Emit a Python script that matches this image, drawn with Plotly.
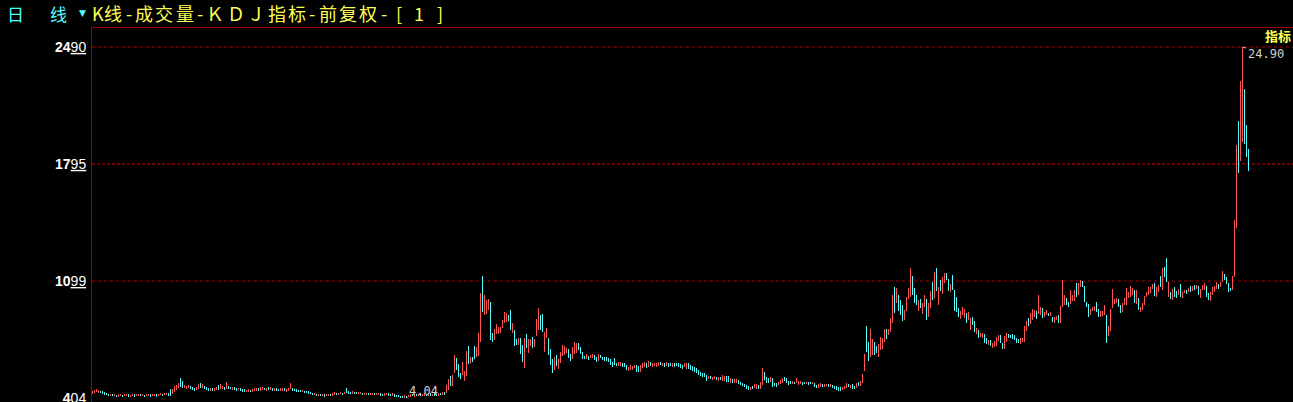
import plotly.graph_objects as go

# ---- data: daily candles (front-adjusted) ----
opens = [
    4.30,4.35,4.40,4.36,4.48,4.44,4.40,4.34,4.30,4.18,
    4.26,4.16,4.24,4.15,4.17,4.24,4.16,4.18,4.26,4.14,
    4.16,4.26,4.17,4.18,4.26,4.16,4.24,4.14,4.16,4.25,
    4.15,4.17,4.26,4.18,4.20,4.28,4.20,4.22,4.32,4.55,
    4.30,4.40,4.50,4.65,5.25,5.08,4.62,4.60,4.62,4.75,
    4.70,4.66,4.52,4.60,4.95,4.62,4.78,4.70,4.65,4.48,
    4.62,4.48,4.50,4.80,4.55,4.58,4.72,4.60,4.78,4.72,
    4.52,4.68,4.66,4.50,4.62,4.58,4.55,4.38,4.40,4.54,
    4.42,4.45,4.48,4.62,4.48,4.52,4.66,4.48,4.68,4.52,
    4.66,4.46,4.64,4.60,4.46,4.48,4.62,4.42,4.44,4.55,
    4.62,4.58,4.56,4.54,4.52,4.38,4.48,4.46,4.44,4.40,
    4.36,4.22,4.30,4.20,4.28,4.18,4.26,4.16,4.18,4.28,
    4.18,4.22,4.34,4.22,4.26,4.36,4.25,4.64,4.46,4.42,
    4.30,4.40,4.38,4.28,4.30,4.36,4.22,4.24,4.32,4.20,
    4.22,4.32,4.22,4.24,4.34,4.30,4.18,4.20,4.34,4.30,
    4.16,4.26,4.24,4.22,4.18,4.16,4.06,4.15,4.08,4.12,
    4.30,4.12,4.28,4.16,4.32,4.16,4.18,4.30,4.18,4.32,
    4.16,4.32,4.30,4.18,4.36,4.22,4.41,4.32,4.52,5.35,
    4.75,5.54,6.40,6.06,5.51,5.41,5.07,5.35,7.13,6.14,
    6.49,7.13,6.49,6.53,7.38,11.29,8.97,9.03,9.27,9.76,
    7.92,7.49,7.84,7.84,7.88,8.18,8.48,8.57,8.97,9.27,
    7.92,8.08,7.53,7.19,7.58,7.19,5.84,7.84,6.73,7.13,
    7.65,7.05,7.72,8.08,8.97,9.03,6.79,7.59,7.59,6.95,
    6.36,5.70,6.59,5.74,6.10,6.55,6.59,6.69,6.93,6.65,
    6.34,6.65,6.73,7.32,7.05,6.79,6.55,6.34,6.55,6.42,
    6.42,6.61,6.49,6.24,6.59,6.49,6.49,6.45,6.40,6.34,
    6.20,6.40,6.14,5.94,5.94,6.14,6.10,6.00,5.66,5.70,
    5.70,5.80,6.00,5.94,5.60,5.80,5.86,6.10,5.90,6.20,
    5.90,5.92,5.88,5.94,6.20,5.94,6.14,5.94,6.10,6.10,
    5.90,6.10,6.14,6.10,6.06,6.00,5.86,5.74,6.10,6.00,
    5.94,5.86,5.80,5.70,5.60,5.54,5.51,5.41,5.15,5.35,
    5.11,5.15,5.31,5.07,5.31,5.07,5.07,5.35,5.35,4.95,
    5.15,4.91,4.95,5.11,5.01,4.95,4.87,4.81,4.75,4.52,
    4.75,4.61,4.56,4.81,4.56,4.81,5.60,5.31,5.21,5.01,
    5.21,4.95,4.95,4.81,4.87,4.95,5.27,5.21,5.07,5.07,
    4.87,5.01,4.91,4.81,4.87,5.01,5.01,4.87,5.01,5.01,
    4.87,4.95,4.81,4.61,4.71,4.87,4.67,4.75,4.87,4.71,
    4.81,4.75,4.75,4.67,4.67,4.52,4.56,4.61,4.87,4.61,
    4.85,4.77,4.65,5.01,4.77,4.91,5.64,8.33,7.35,6.49,
    6.59,7.34,7.14,6.49,6.89,6.95,7.34,8.17,7.78,7.94,
    8.47,10.61,9.66,10.19,9.86,9.56,8.67,9.20,9.92,10.06,
    11.30,10.59,10.19,9.20,9.92,9.01,9.46,9.92,8.87,9.40,
    10.91,9.96,11.78,9.56,11.05,10.25,10.85,11.44,11.10,10.35,
    11.34,10.45,10.06,9.36,8.73,8.97,8.77,9.07,8.67,8.08,
    8.87,8.61,7.82,8.08,7.68,7.62,7.82,7.58,7.18,7.48,
    7.03,7.09,7.14,7.42,7.78,7.28,6.95,7.38,7.82,7.80,
    7.82,7.78,7.58,7.56,7.22,7.34,7.34,8.02,8.81,8.41,
    8.67,8.87,9.20,9.01,8.97,9.40,8.87,8.97,9.12,8.91,
    8.87,8.51,8.67,8.97,8.51,9.46,9.56,9.96,9.76,9.62,
    9.82,9.82,10.89,10.16,10.65,11.01,10.69,9.76,9.62,8.97,
    9.23,9.23,9.76,9.31,8.87,8.91,8.97,8.97,7.72,8.04,
    9.36,9.62,9.66,9.90,9.56,9.17,9.56,9.56,9.96,10.06,
    10.16,10.45,9.62,9.96,9.17,9.27,9.56,10.06,10.16,10.26,
    10.49,10.89,10.02,10.36,11.29,10.45,11.84,12.34,10.06,10.36,
    9.86,10.65,10.41,10.16,10.81,9.96,10.26,10.45,10.36,10.69,
    10.41,10.75,10.49,10.69,9.96,10.45,10.45,10.69,10.30,9.82,
    10.16,10.36,10.49,10.81,10.65,10.95,11.40,11.21,10.89,10.55,
    10.46,11.25,14.12,20.50,18.14,19.25,22.38,20.26,18.84,
]
closes = [
    4.45,4.50,4.58,4.52,4.32,4.28,4.24,4.20,4.16,4.28,
    4.14,4.26,4.14,4.25,4.27,4.14,4.28,4.30,4.15,4.24,
    4.27,4.15,4.29,4.30,4.14,4.28,4.12,4.26,4.28,4.14,
    4.27,4.29,4.15,4.30,4.32,4.16,4.34,4.36,4.18,4.15,
    4.60,4.75,4.82,4.95,4.72,4.62,4.80,4.78,4.80,4.55,
    4.50,4.48,4.72,4.90,4.66,4.88,4.55,4.50,4.46,4.62,
    4.45,4.66,4.70,4.52,4.85,4.78,4.52,5.01,4.58,4.55,
    4.70,4.50,4.48,4.64,4.46,4.42,4.40,4.52,4.56,4.40,
    4.58,4.62,4.66,4.46,4.68,4.70,4.50,4.64,4.50,4.72,
    4.48,4.62,4.48,4.44,4.62,4.64,4.45,4.58,4.62,4.95,
    4.48,4.44,4.42,4.40,4.38,4.50,4.36,4.32,4.30,4.26,
    4.22,4.32,4.18,4.30,4.16,4.30,4.15,4.28,4.30,4.16,
    4.32,4.38,4.20,4.36,4.40,4.22,4.38,4.36,4.30,4.28,
    4.44,4.28,4.26,4.40,4.42,4.24,4.34,4.36,4.22,4.32,
    4.34,4.20,4.34,4.36,4.18,4.16,4.34,4.36,4.18,4.14,
    4.32,4.12,4.10,4.08,4.06,4.05,4.20,4.04,4.24,4.28,
    4.14,4.26,4.14,4.30,4.18,4.30,4.32,4.16,4.34,4.18,
    4.30,4.18,4.16,4.34,4.20,4.40,4.22,4.81,5.17,4.75,
    5.41,6.59,5.70,5.31,5.17,6.20,5.64,6.85,6.06,6.49,
    6.20,6.34,7.05,7.92,10.29,9.17,10.16,9.86,9.92,7.49,
    7.38,8.12,8.44,8.28,8.28,8.67,9.17,9.07,8.63,8.08,
    8.48,7.13,7.19,7.62,6.65,6.20,7.58,6.99,7.53,7.54,
    6.99,7.54,8.71,9.40,8.08,7.98,7.98,8.18,6.59,6.00,
    5.51,6.46,5.94,6.36,6.75,7.19,7.13,6.99,6.40,6.26,
    7.05,7.35,7.29,6.89,6.63,6.34,6.34,6.65,6.30,6.61,
    6.65,6.30,6.20,6.65,6.40,6.30,6.26,6.26,6.20,6.00,
    5.86,6.00,5.94,6.20,6.20,5.90,5.90,5.70,5.90,6.00,
    5.94,6.00,5.60,5.60,6.00,6.10,6.20,5.80,6.26,5.94,
    6.14,6.12,6.14,6.20,6.00,6.14,5.90,6.20,5.90,5.94,
    6.10,5.90,5.94,5.86,5.80,5.74,6.14,6.14,5.74,5.70,
    5.66,5.60,5.51,5.41,5.35,5.31,5.31,5.07,5.35,5.15,
    5.31,5.35,5.11,5.31,5.11,5.41,5.35,5.01,5.01,5.21,
    4.91,5.15,5.15,4.87,4.81,4.75,4.67,4.56,4.52,4.71,
    4.56,4.87,4.87,4.56,5.01,5.80,5.11,4.95,4.91,5.27,
    4.67,4.75,4.71,5.01,5.11,5.21,5.07,4.95,4.81,4.87,
    5.07,4.87,5.21,5.07,5.07,4.81,4.87,5.01,4.81,4.87,
    5.01,4.67,4.61,4.87,4.95,4.67,4.87,4.87,4.71,4.87,
    4.61,4.56,4.52,4.48,4.48,4.71,4.75,4.95,4.67,4.81,
    4.57,4.57,4.91,4.77,5.07,5.47,6.65,6.79,6.24,8.14,
    7.54,6.59,6.69,7.22,7.68,7.58,8.13,7.54,8.13,8.81,
    10.15,9.07,10.59,9.20,8.97,8.61,9.26,10.06,10.59,11.78,
    10.19,9.66,9.56,9.86,9.36,9.66,10.15,8.67,9.66,10.39,
    9.86,11.54,10.39,10.65,10.39,11.24,11.44,11.05,10.39,10.79,
    10.45,9.20,9.16,8.87,9.20,9.46,9.32,8.47,9.16,8.81,
    8.37,7.94,8.21,7.62,7.88,7.88,7.28,7.22,7.48,7.14,
    7.28,7.42,7.68,7.78,7.28,6.95,7.74,7.88,7.58,7.60,
    7.54,7.48,7.28,7.30,7.58,7.58,8.33,8.61,8.33,9.07,
    9.32,9.26,8.73,10.15,9.46,8.81,9.16,9.26,8.93,9.17,
    8.57,8.87,8.91,8.51,9.50,11.05,10.16,9.56,9.46,10.45,
    10.16,10.45,10.06,10.85,11.05,10.65,9.76,9.42,8.87,9.31,
    9.46,9.50,9.17,8.87,9.23,9.23,9.56,7.33,8.32,9.31,
    10.49,9.90,9.96,9.46,9.07,9.66,9.96,10.55,10.36,10.69,
    10.55,9.66,10.45,9.27,9.46,9.66,10.10,10.36,10.65,10.61,
    10.81,10.10,10.61,10.75,10.61,11.74,11.25,10.95,10.95,9.90,
    10.49,10.06,9.96,10.49,10.06,10.36,10.45,10.22,10.55,10.36,
    10.69,10.45,10.75,10.16,10.49,10.75,10.85,10.06,9.86,10.36,
    10.61,10.69,10.95,10.49,10.95,11.60,11.05,10.81,10.36,10.41,
    11.29,14.62,19.07,17.39,22.87,24.90,19.13,18.38,17.55,
]

tick_vals = [4.04, 10.99, 17.95, 24.90]
tick_text = ["<b>4</b><u>04</u>", "<b>10</b><u>99</u>",
             "<b>17</b><u>95</u>", "<b>24</b><u>90</u>"]
grid_levels = [24.90, 10.99]
current_level = 17.95
high_label = "24.90"
low_label = "4.04"
header_left = ["日", "线"]
header_title = "K线-成交量-ＫＤＪ指标-前复权-"
header_suffix = "[1]"
corner_label = "指标"

# ---- styles ----
UP = "#ff5454"
DOWN = "#54ffff"
FRAME = "#a00000"
YELLOW = "#ffff54"
CYAN = "#54ffff"
W, H = 1293, 402
ML, MT = 92, 28
PW, PH = W - ML, H - MT


def px_x(px):
    return (px - ML) / PW


def px_y(py):
    return 1 - (py - MT) / PH


n = len(opens)
up_x, up_b, up_h, dn_x, dn_b, dn_h = [], [], [], [], [], []
for i, (o, c) in enumerate(zip(opens, closes)):
    lo, hi = min(o, c), max(o, c)
    if c >= o:
        up_x.append(i); up_b.append(lo); up_h.append(hi - lo)
    else:
        dn_x.append(i); dn_b.append(lo); dn_h.append(hi - lo)

i_max = max(range(n), key=lambda k: max(opens[k], closes[k]))
i_min = min(range(n), key=lambda k: min(opens[k], closes[k]))

fig = go.Figure()
fig.add_trace(go.Bar(x=up_x, y=up_h, base=up_b, width=0.5,
                     marker=dict(color=UP, line=dict(width=0)), hoverinfo="skip"))
fig.add_trace(go.Bar(x=dn_x, y=dn_h, base=dn_b, width=0.5,
                     marker=dict(color=DOWN, line=dict(width=0)), hoverinfo="skip"))

shapes = []
for lv in grid_levels:
    shapes.append(dict(type="line", xref="paper", x0=0, x1=1, yref="y", y0=lv, y1=lv,
                       line=dict(color=FRAME, width=1, dash="3px,3px"), layer="below"))
shapes.append(dict(type="line", xref="paper", x0=0, x1=1, yref="y",
                   y0=current_level, y1=current_level,
                   line=dict(color="#e00000", width=1, dash="3px,2px"), layer="below"))

annotations = [
    dict(text=header_left[0], xref="paper", yref="paper", x=px_x(5), y=px_y(13),
         xanchor="left", yanchor="middle", showarrow=False,
         font=dict(family="Noto Sans CJK SC", size=17, color=CYAN)),
    dict(text=header_left[1], xref="paper", yref="paper", x=px_x(48), y=px_y(13),
         xanchor="left", yanchor="middle", showarrow=False,
         font=dict(family="Noto Sans CJK SC", size=17, color=CYAN)),
    dict(text="▼", xref="paper", yref="paper", x=px_x(77), y=px_y(13),
         xanchor="left", yanchor="middle", showarrow=False,
         font=dict(family="DejaVu Sans", size=9, color=CYAN)),
    dict(text="<b>" + corner_label + "</b>", xref="paper", yref="paper", x=1, y=px_y(36),
         xanchor="right", yanchor="middle", showarrow=False,
         font=dict(family="Noto Sans CJK SC", size=13, color=YELLOW)),
    dict(text=high_label, x=i_max, y=max(opens[i_max], closes[i_max]),
         xref="x", yref="y", showarrow=True, arrowhead=0, arrowwidth=1,
         arrowcolor="#c8c8c8", ax=23, ay=7,
         font=dict(family="DejaVu Sans Mono", size=12, color="#d0d0d0")),
    dict(text=low_label, x=i_min, y=min(opens[i_min], closes[i_min]),
         xref="x", yref="y", showarrow=True, arrowhead=0, arrowwidth=1,
         arrowcolor="#c8c8c8", ax=17, ay=-7,
         font=dict(family="DejaVu Sans Mono", size=12, color="#d0d0d0")),
]

# title laid out on a fixed character grid (half-width / full-width cells)
HALF = 10.2
cursor = 93.0
cells = [(ch, HALF if ord(ch) < 0x2E80 else 2 * HALF) for ch in header_title]
cells += [(ch, 2 * HALF) for ch in header_suffix]
for ch, cw in cells:
    annotations.append(dict(text=ch, xref="paper", yref="paper",
                            x=px_x(cursor + cw / 2), y=px_y(13),
                            xanchor="center", yanchor="middle", showarrow=False,
                            font=dict(family="Noto Sans CJK SC", size=18, color=YELLOW)))
    cursor += cw

y_scale = (24.90 - 4.04) / (398 - 47)
y0 = 4.04 - (H - 398) * y_scale
y1 = 24.90 + (47 - MT) * y_scale

fig.update_layout(
    width=W, height=H,
    paper_bgcolor="black", plot_bgcolor="black",
    margin=dict(l=ML, r=0, t=MT, b=0, pad=0, autoexpand=False),
    barmode="overlay", bargap=0, showlegend=False,
    shapes=shapes, annotations=annotations,
    xaxis=dict(range=[-0.25, (PW / 2) - 0.25], showgrid=False, zeroline=False,
               showticklabels=False, ticks="", side="top", automargin=False,
               showline=True, linecolor=FRAME, linewidth=1, fixedrange=True),
    yaxis=dict(range=[y0, y1], showgrid=False, zeroline=False,
               tickvals=tick_vals, ticktext=tick_text, ticks="", automargin=False,
               tickfont=dict(family="Liberation Sans", size=14, color="white"),
               showline=True, linecolor=FRAME, linewidth=1, fixedrange=True,
               ticklabelstandoff=2, ticklabeloverflow="allow"),
)

fig.write_html("out.html", config={"displayModeBar": False})
with open("out.html", encoding="utf-8") as f:
    html = f.read()
html = html.replace(
    "<head>",
    "<head><style>html,body{margin:0;padding:0;overflow:hidden;background:#000}</style>",
    1)
with open("out.html", "w", encoding="utf-8") as f:
    f.write(html)
